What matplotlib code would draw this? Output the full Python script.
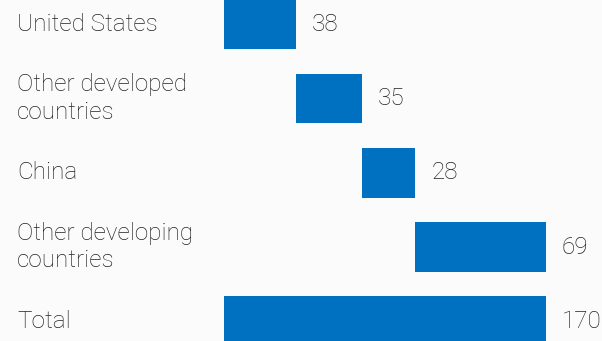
import matplotlib.pyplot as plt
import matplotlib.transforms as mtransforms

labels = ['United States', 'Other developed\ncountries', 'China',
          'Other developing\ncountries', 'Total']
values = [38, 35, 28, 69, 170]
value_labels = ['38', '35', '28', '69', '170']

plt.rcParams['font.family'] = ['Roboto', 'DejaVu Sans']

# waterfall starts: each step starts where the previous ended, total starts at 0
starts = []
run = 0
for v in values[:-1]:
    starts.append(run)
    run += v
starts.append(0)

fig = plt.figure(figsize=(6.02, 3.41), dpi=100)
fig.patch.set_facecolor('#fbfbfb')
ax = fig.add_axes([0, 0, 1, 1])
ax.set_facecolor('#fbfbfb')

ypos = list(range(len(values)))
ax.barh(ypos, values, left=starts, height=0.667, color='#0070c0')

for y, s, v, t in zip(ypos, starts, values, value_labels):
    ax.text(s + v + 8.4, y, t, va='center', ha='left', fontsize=17.5,
            color='#222222', fontweight='light')

trans = mtransforms.blended_transform_factory(ax.transAxes, ax.transData)
for y, lab in zip(ypos, labels):
    ax.text(17 / 602, y, lab, transform=trans, va='center', ha='left',
            fontsize=17.5, color='#222222', linespacing=1.25, fontweight='light')

ax.set_xlim(-224 / 1.894, (602 - 224) / 1.894)
ax.set_ylim(4 + (341 - 321.2) / 74.15, -24.6 / 74.15)
ax.axis('off')

fig.savefig('out.png', dpi=100, facecolor=fig.get_facecolor())
